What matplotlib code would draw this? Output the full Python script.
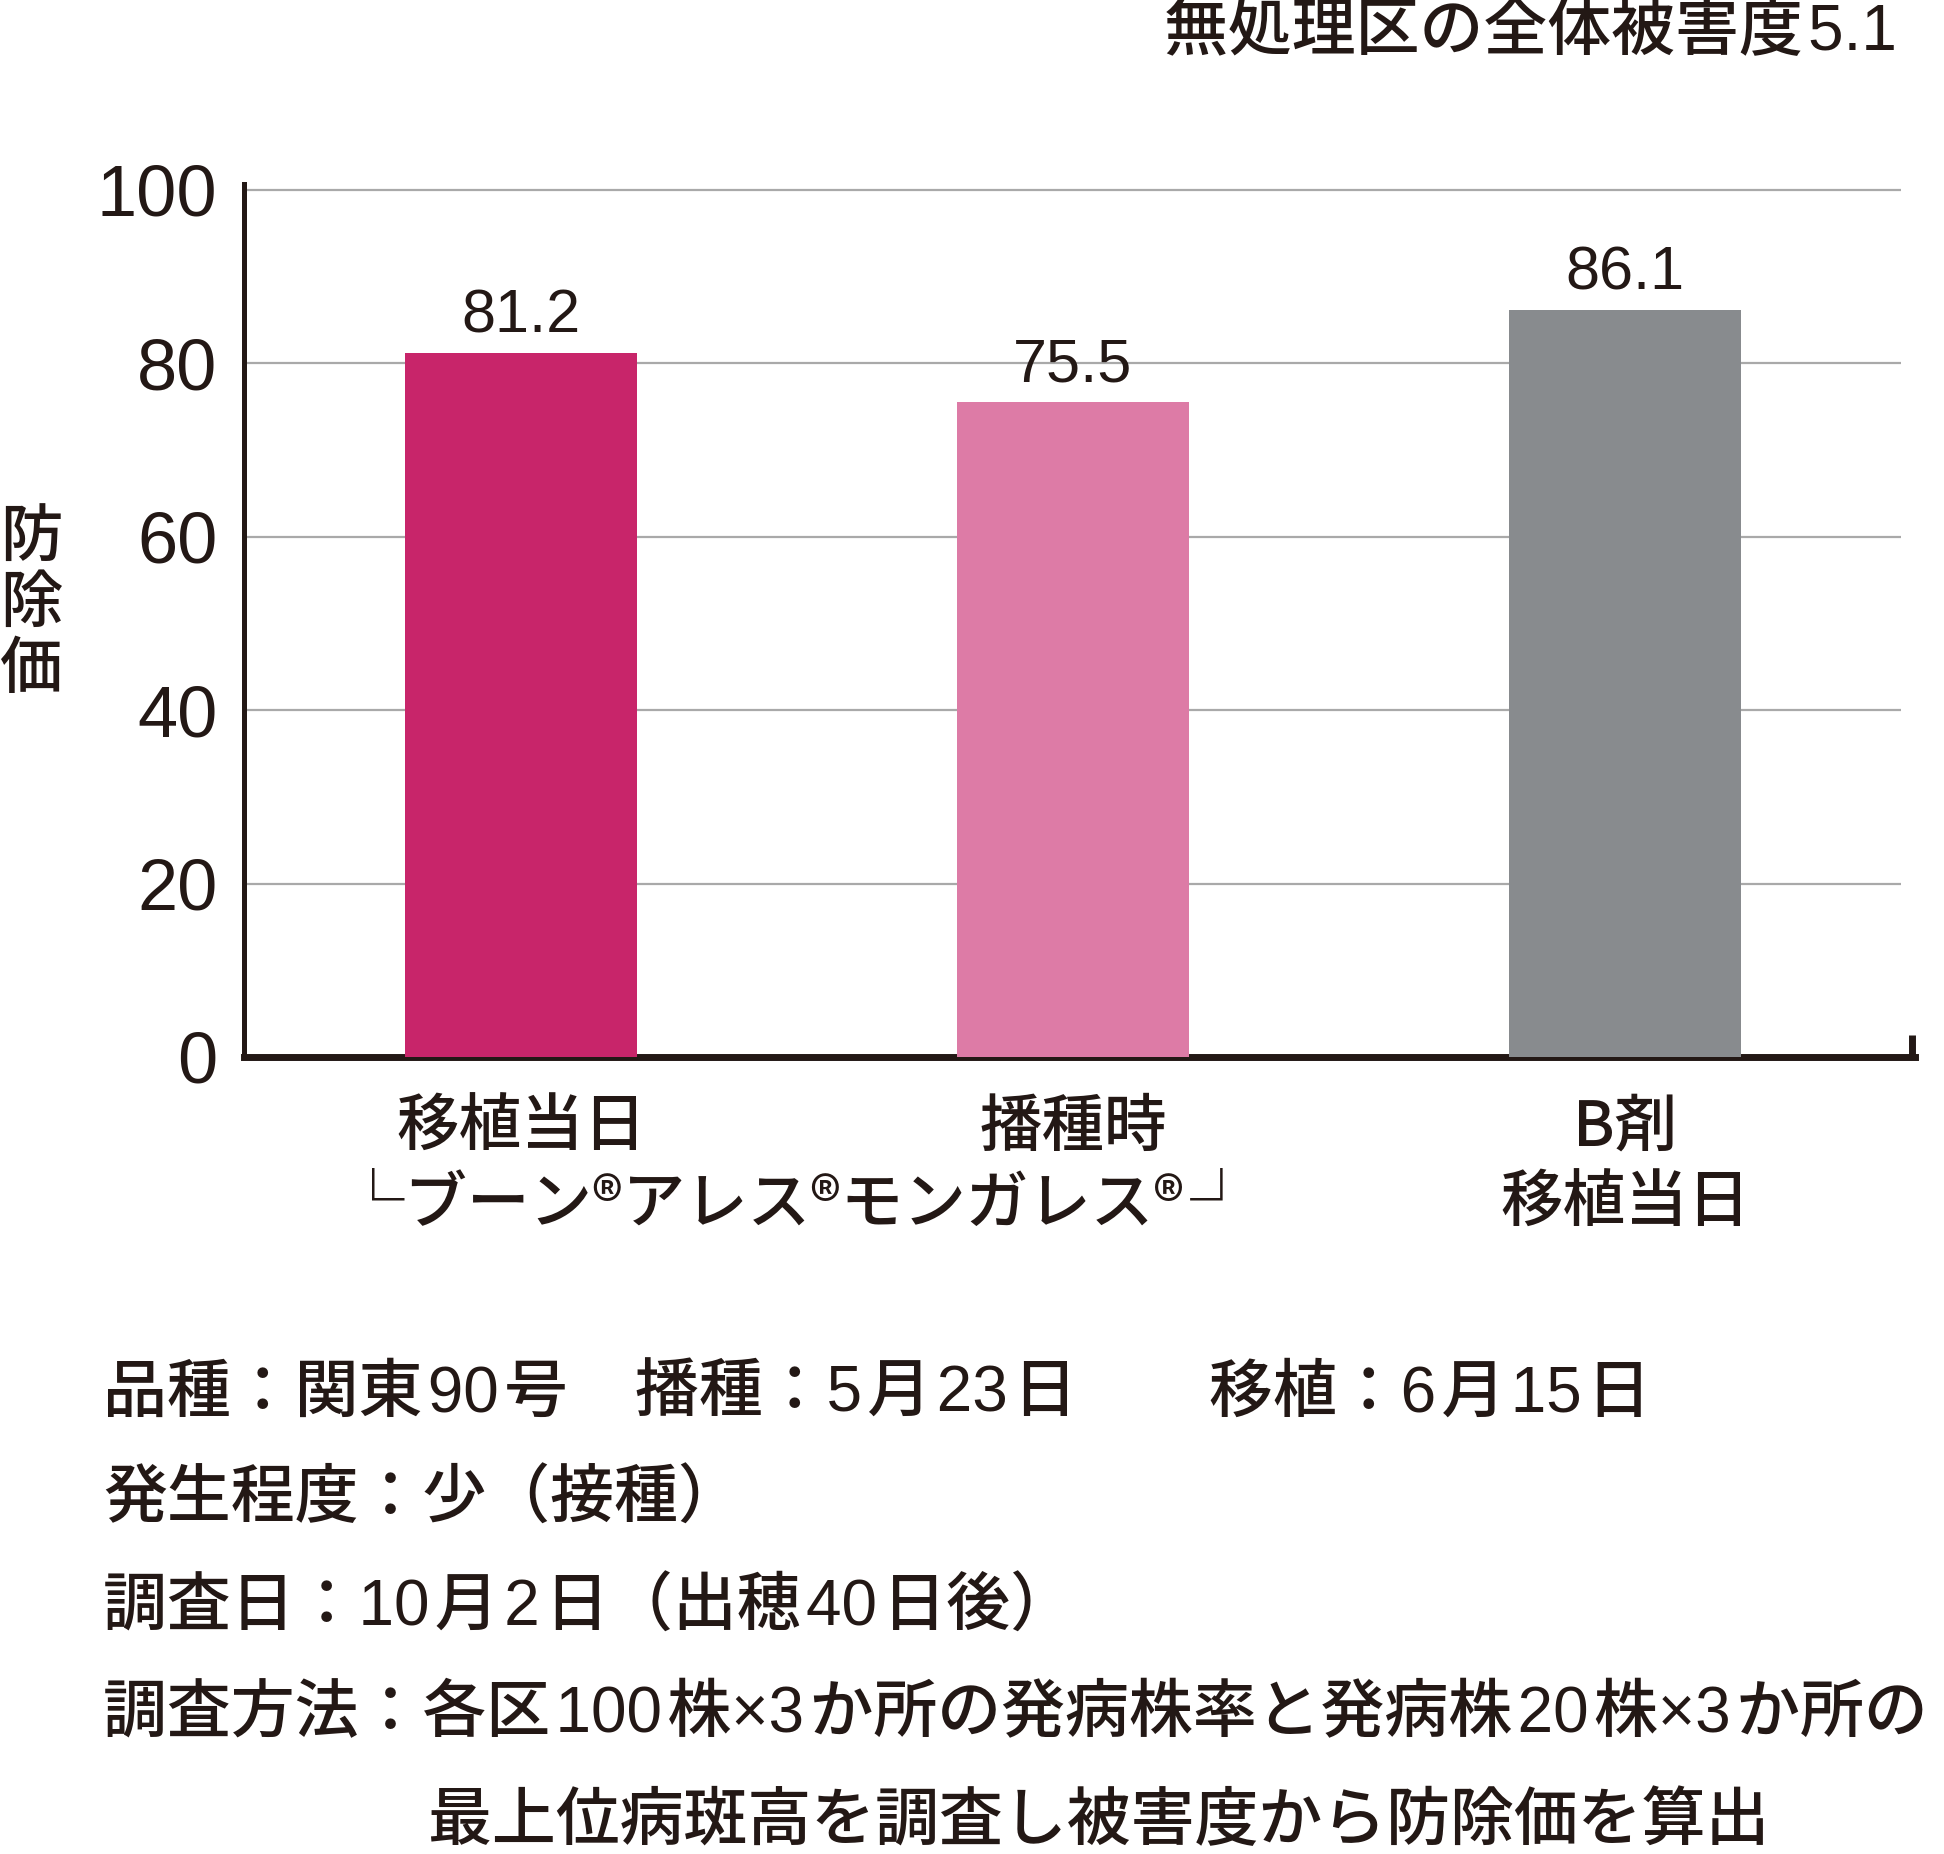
import matplotlib
matplotlib.use("Agg")
import matplotlib.pyplot as plt

# データ
categories = ["移植当日", "播種時", "B剤\n移植当日"]
values = [81.2, 75.5, 86.1]
bar_colors = ["#C8256A", "#DD7BA6", "#888B8E"]
yticks = [0, 20, 40, 60, 80, 100]
product_label = "└ブーン®アレス®モンガレス®\u200a┘"
title_text = "無処理区の全体被害度\u200a5.1"
ylabel_text = "防\n除\n価"
notes_line1 = ["品種：関東\u200a90\u200a号", "播種：5\u200a月\u200a23\u200a日", "移植：6\u200a月\u200a15\u200a日"]
notes_rest = ["発生程度：少（接種）",
              "調査日：10\u200a月\u200a2\u200a日（出穂\u200a40\u200a日後）",
              "調査方法：各区\u200a100\u200a株×3\u200aか所の発病株率と発病株\u200a20\u200a株×3\u200aか所の"]
notes_last = "最上位病斑高を調査し被害度から防除価を算出"

plt.rcParams['font.family'] = ['Liberation Sans', 'Noto Sans CJK JP', 'DejaVu Sans']
dark = "#231815"
cjk_w = 500

fig = plt.figure(figsize=(19.44, 18.54), dpi=100)
ax = fig.add_axes([0.1255, 0.4299, 0.985 - 0.1255, 0.9008 - 0.4299])

x = list(range(len(values)))
ax.set_xlim(-0.502, 2.525)
ax.set_ylim(0, 100.7)

# 目盛線
ax.hlines(yticks[1:], -0.502, 2.50, colors="#A9A9A9", linewidth=1.6, zorder=1)

ax.bar(x, values, width=0.42, color=bar_colors, zorder=3)

for xi, v in zip(x, values):
    ax.annotate("{:.1f}".format(v), (xi, v), xytext=(0, 15), textcoords="offset points",
                ha="center", va="baseline", fontsize=44, color=dark)

for s in ["top", "right"]:
    ax.spines[s].set_visible(False)
ax.spines["left"].set_linewidth(3.6)
ax.spines["bottom"].set_linewidth(5)
ax.spines["left"].set_color(dark)
ax.spines["bottom"].set_color(dark)
ax.plot([2.519, 2.519], [0, 2.5], color=dark, linewidth=5, solid_capstyle="butt", clip_on=False, zorder=5)

ax.set_yticks(yticks)
ax.set_yticklabels([str(t) for t in yticks], fontsize=52, color=dark)
ax.tick_params(axis="y", length=0, pad=19)
ax.set_xticks([])

# 横軸ラベル
trans = ax.get_xaxis_transform()
for xi, lab in zip(x, categories):
    lines = lab.split("\n")
    for k, line in enumerate(lines):
        ax.text(xi, -0.0813 - 0.088 * k, line, transform=trans, ha="center", va="center",
                fontsize=45, color=dark, family=['Noto Sans CJK JP'], fontweight=cjk_w)
ax.text(0.5, -0.1695, product_label, transform=trans, ha="center", va="center",
        fontsize=45, color=dark, family=['Noto Sans CJK JP', 'DejaVu Sans'], fontweight=cjk_w)

fig.text(0.016, 0.674, ylabel_text, ha="center", va="center", fontsize=45,
         color=dark, linespacing=1.06, family=['Noto Sans CJK JP'], fontweight=cjk_w)

fig.text(0.976, 0.982, title_text, ha="right", va="center", fontsize=46, color=dark, fontweight=cjk_w)

# 注記
ys = [0.2476, 0.1909, 0.1327, 0.0750]
for xf, t in zip([103 / 1944, 635 / 1944, 1209 / 1944], notes_line1):
    fig.text(xf, ys[0], t, ha="left", va="center", fontsize=46, color=dark, fontweight=cjk_w)
for yf, t in zip(ys[1:], notes_rest):
    fig.text(103 / 1944, yf, t, ha="left", va="center", fontsize=46, color=dark, fontweight=cjk_w)
fig.text(428 / 1944, 0.0167, notes_last, ha="left", va="center", fontsize=46, color=dark, fontweight=cjk_w)

fig.savefig("out.png", dpi=100)
